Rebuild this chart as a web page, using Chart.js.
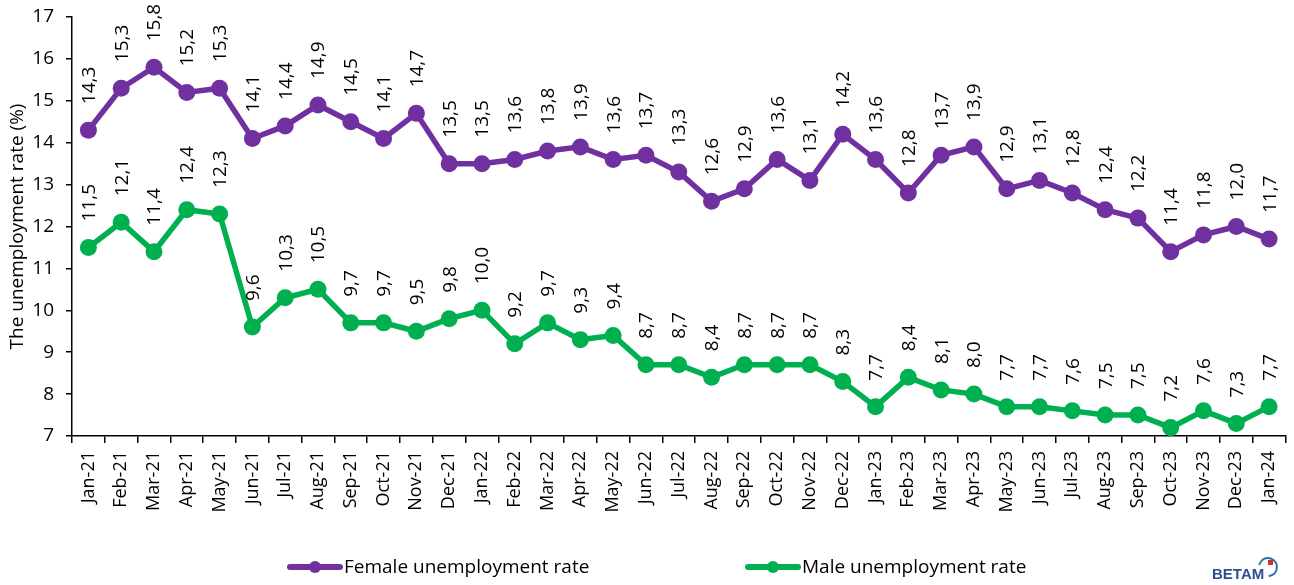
<!DOCTYPE html>
<html>
<head>
<meta charset="utf-8">
<script src="https://cdn.jsdelivr.net/npm/chart.js@4.4.1/dist/chart.umd.min.js"></script>
<style>
html,body{margin:0;padding:0;background:#fff;}
canvas{display:block;}
</style>
</head>
<body>
<canvas id="c" width="1294" height="585"></canvas>
<script>
const categories = ["Jan-21","Feb-21","Mar-21","Apr-21","May-21","Jun-21","Jul-21","Aug-21","Sep-21","Oct-21","Nov-21","Dec-21",
"Jan-22","Feb-22","Mar-22","Apr-22","May-22","Jun-22","Jul-22","Aug-22","Sep-22","Oct-22","Nov-22","Dec-22",
"Jan-23","Feb-23","Mar-23","Apr-23","May-23","Jun-23","Jul-23","Aug-23","Sep-23","Oct-23","Nov-23","Dec-23","Jan-24"];
const femaleRate = [14.3,15.3,15.8,15.2,15.3,14.1,14.4,14.9,14.5,14.1,14.7,13.5,
13.5,13.6,13.8,13.9,13.6,13.7,13.3,12.6,12.9,13.6,13.1,14.2,
13.6,12.8,13.7,13.9,12.9,13.1,12.8,12.4,12.2,11.4,11.8,12.0,11.7];
const maleRate = [11.5,12.1,11.4,12.4,12.3,9.6,10.3,10.5,9.7,9.7,9.5,9.8,
10.0,9.2,9.7,9.3,9.4,8.7,8.7,8.4,8.7,8.7,8.7,8.3,
7.7,8.4,8.1,8.0,7.7,7.7,7.6,7.5,7.5,7.2,7.6,7.3,7.7];
const seriesNames = ["Female unemployment rate","Male unemployment rate"];
const seriesColors = ["#7030A0","#00B050"];
const yAxisTitle = "The unemployment rate (%)";

const FONT = "'Open Sans', sans-serif";

const labelPlugin = {
  id: 'valueLabels',
  afterDatasetsDraw(chart) {
    const ctx = chart.ctx;
    ctx.save();
    ctx.font = "19px " + FONT;
    ctx.fillStyle = "#000";
    ctx.textAlign = "left";
    ctx.textBaseline = "middle";
    chart.data.datasets.forEach((ds, di) => {
      const meta = chart.getDatasetMeta(di);
      meta.data.forEach((pt, i) => {
        const txt = ds.data[i].toFixed(1).replace('.', ',');
        ctx.save();
        ctx.translate(pt.x, pt.y - 26);
        ctx.rotate(-Math.PI / 2);
        ctx.fillText(txt, 0, 1);
        ctx.restore();
      });
    });
    ctx.restore();
  },
  afterDraw(chart) {
    const ctx = chart.ctx;
    ctx.save();
    const legendY = 567;
    const starts = [287, 745];
    chart.data.datasets.forEach((ds, di) => {
      const x0 = starts[di];
      ctx.strokeStyle = ds.borderColor;
      ctx.lineWidth = 6;
      ctx.lineCap = "round";
      ctx.beginPath();
      ctx.moveTo(x0 + 3, legendY);
      ctx.lineTo(x0 + 53, legendY);
      ctx.stroke();
      ctx.fillStyle = ds.borderColor;
      ctx.beginPath();
      ctx.arc(x0 + 28, legendY, 6, 0, Math.PI * 2);
      ctx.fill();
      ctx.fillStyle = "#000";
      ctx.font = "19px " + FONT;
      ctx.textAlign = "left";
      ctx.textBaseline = "middle";
      ctx.fillText(ds.label, x0 + 57, legendY + 1);
    });
    // BETAM logo text
    ctx.fillStyle = "#2F4E8F";
    ctx.font = "bold 15px 'Liberation Sans', sans-serif";
    ctx.textAlign = "left";
    ctx.textBaseline = "alphabetic";
    ctx.fillText("BETAM", 1212, 579);
    ctx.strokeStyle = "#2F6FB0";
    ctx.lineWidth = 2;
    ctx.beginPath();
    ctx.arc(1268, 567, 9, -Math.PI * 0.9, Math.PI * 0.45);
    ctx.stroke();
    ctx.fillStyle = "#D03030";
    ctx.fillRect(1268, 560, 5, 5);
    ctx.restore();
  }
};

new Chart(document.getElementById('c'), {
  type: 'line',
  data: {
    labels: categories,
    datasets: [
      { label: seriesNames[0], data: femaleRate, borderColor: seriesColors[0], backgroundColor: seriesColors[0],
        borderWidth: 5.5, pointRadius: 8.5, pointBorderWidth: 0, pointBackgroundColor: seriesColors[0], tension: 0 },
      { label: seriesNames[1], data: maleRate, borderColor: seriesColors[1], backgroundColor: seriesColors[1],
        borderWidth: 5.5, pointRadius: 8.5, pointBorderWidth: 0, pointBackgroundColor: seriesColors[1], tension: 0 }
    ]
  },
  options: {
    responsive: false,
    animation: false,
    devicePixelRatio: 1,
    layout: { padding: { top: 17, right: 7, left: 0, bottom: 69 } },
    plugins: { legend: { display: false }, tooltip: { enabled: false } },
    scales: {
      x: {
        offset: true,
        grid: { offset: true, drawOnChartArea: false, drawTicks: true, tickLength: 7, color: '#000', lineWidth: 1.5 },
        border: { color: '#000', width: 1.5 },
        ticks: { minRotation: 90, maxRotation: 90, autoSkip: false, padding: 8, color: '#000', font: { family: FONT, size: 18 } },
        afterFit(s) { s.height = 80; s.paddingLeft = 0; s.paddingRight = 0; }
      },
      y: {
        min: 7, max: 17,
        ticks: { stepSize: 1, padding: 12, color: '#000', font: { family: FONT, size: 19 } },
        grid: { drawOnChartArea: false, drawTicks: true, tickLength: 6, color: '#000', lineWidth: 1.5 },
        border: { color: '#000', width: 1.5 },
        title: { display: true, text: yAxisTitle, color: '#000', font: { family: FONT, size: 19 }, padding: { top: 6, bottom: 0 } },
        afterFit(s) { s.width = 72; s.paddingTop = 0; s.paddingBottom = 0; }
      }
    }
  },
  plugins: [labelPlugin]
});
</script>
</body>
</html>
